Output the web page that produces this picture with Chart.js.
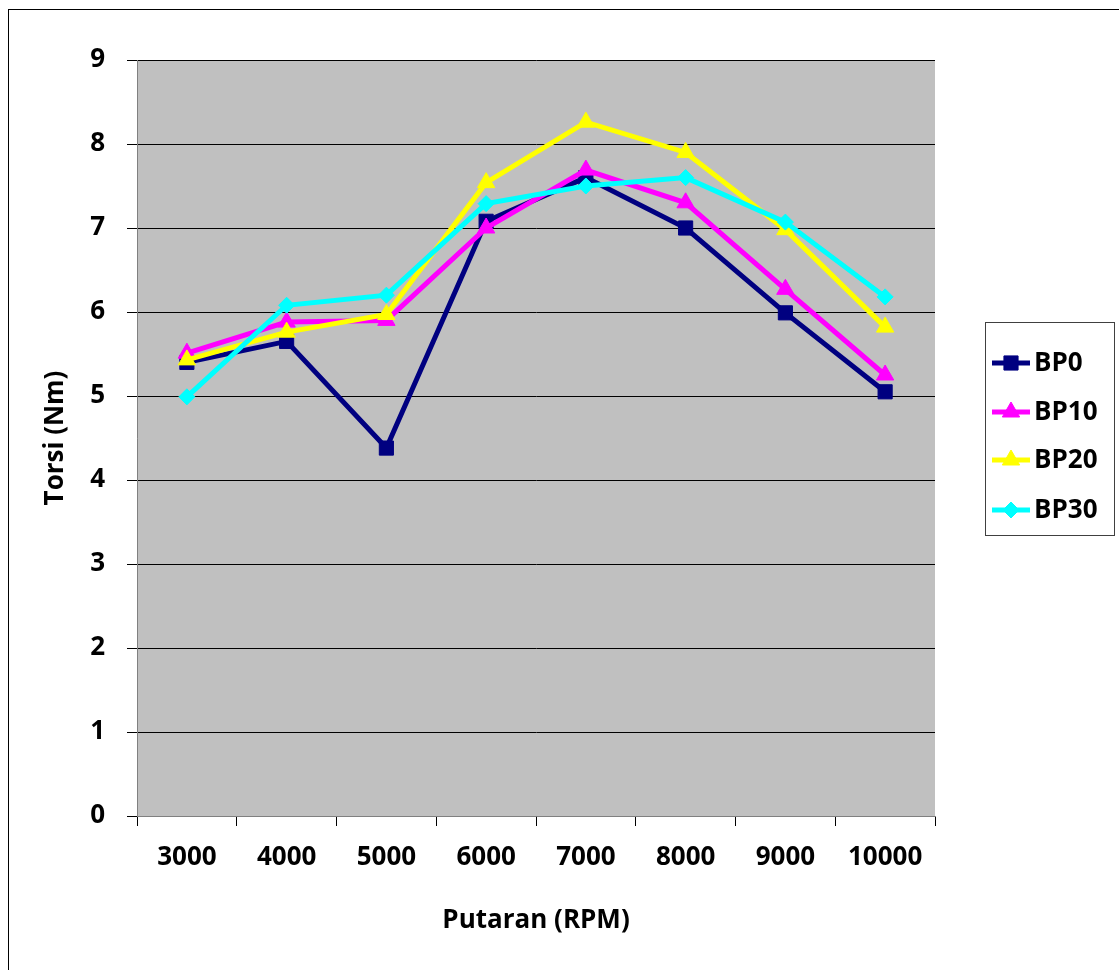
<!DOCTYPE html>
<html>
<head>
<meta charset="utf-8">
<script src="https://cdn.jsdelivr.net/npm/chart.js@4/dist/chart.umd.min.js"></script>
<style>
  body { margin: 0; background: #fff; }
  canvas { display: block; }
</style>
</head>
<body>
<canvas id="torsi" width="1119" height="970"></canvas>
<script>
const rpm = ['3000', '4000', '5000', '6000', '7000', '8000', '9000', '10000'];
const bp0 = [5.40, 5.65, 4.38, 7.08, 7.60, 7.00, 5.99, 5.05];
const bp10 = [5.51, 5.88, 5.90, 7.00, 7.69, 7.30, 6.27, 5.25];
const bp20 = [5.43, 5.76, 5.97, 7.54, 8.26, 7.90, 6.98, 5.82];
const bp30 = [4.99, 6.08, 6.20, 7.29, 7.50, 7.60, 7.07, 6.18];

const FONT = { family: "'Open Sans', sans-serif", size: 26, weight: 'bold' };

const plotBg = {
  id: 'plotBg',
  beforeDraw(chart) {
    const { ctx, chartArea: a } = chart;
    ctx.save();
    ctx.fillStyle = '#C0C0C0';
    ctx.fillRect(a.left, a.top, a.right - a.left, a.bottom - a.top);
    ctx.restore();
  }
};

// excel style legend box with line + marker, plus the outer frame
const boxLegend = {
  id: 'boxLegend',
  afterDraw(chart) {
    const ctx = chart.ctx;
    ctx.save();
    ctx.strokeStyle = '#000';
    ctx.lineWidth = 1;
    ctx.strokeRect(8.5, 9.5, 1200, 1200);
    ctx.strokeStyle = '#404040';
    ctx.strokeRect(985.5, 322.5, 129, 213);
    const rows = [363, 412, 460, 510];
    chart.data.datasets.forEach((ds, i) => {
      const y = rows[i];
      ctx.strokeStyle = ds.borderColor;
      ctx.lineWidth = 5;
      ctx.beginPath();
      ctx.moveTo(992, y);
      ctx.lineTo(1030, y);
      ctx.stroke();
      ctx.fillStyle = ds.pointBackgroundColor;
      ctx.strokeStyle = ds.pointBorderColor;
      ctx.lineWidth = 1;
      Chart.helpers.drawPoint(ctx, { pointStyle: ds.pointStyle, radius: ds.pointRadius, rotation: 0, borderWidth: 1 }, 1011, y);
      ctx.fillStyle = '#000';
      ctx.font = 'bold 26px "Open Sans", sans-serif';
      ctx.textBaseline = 'middle';
      ctx.textAlign = 'left';
      ctx.fillText(ds.label, 1034, y + 1);
    });
    ctx.restore();
  }
};

function series(label, data, color, style, radius, order) {
  return {
    label, data, order,
    borderColor: color,
    backgroundColor: color,
    borderWidth: 5,
    pointStyle: style,
    pointRadius: radius,
    pointBackgroundColor: color,
    pointBorderColor: color,
    pointBorderWidth: 1,
    tension: 0
  };
}

new Chart(document.getElementById('torsi'), {
  type: 'line',
  data: {
    labels: rpm,
    datasets: [
      series('BP0', bp0, '#000080', 'rect', 10, 4),
      series('BP10', bp10, '#FF00FF', 'triangle', 10, 3),
      series('BP20', bp20, '#FFFF00', 'triangle', 10, 2),
      series('BP30', bp30, '#00FFFF', 'rectRot', 8, 1)
    ]
  },
  options: {
    responsive: false,
    animation: false,
    layout: { padding: { top: 60, right: 184, bottom: 0, left: 0 } },
    plugins: { legend: { display: false }, tooltip: { enabled: false } },
    scales: {
      x: {
        offset: true,
        grid: { offset: true, drawOnChartArea: false, tickLength: 10, color: '#000' },
        border: { color: '#808080', width: 1 },
        ticks: { color: '#000', font: FONT, padding: 16, maxRotation: 0 },
        title: { display: true, text: 'Putaran (RPM)', color: '#000', font: FONT, padding: { top: 0, bottom: 34 } },
        afterFit(s) { s.height = 154; }
      },
      y: {
        min: 0, max: 9,
        ticks: { stepSize: 1, color: '#000', font: FONT, padding: 22 },
        grid: { color: '#000', tickLength: 10, lineWidth: 1 },
        border: { color: '#808080', width: 1 },
        title: { display: true, text: 'Torsi (Nm)', color: '#000', font: FONT, padding: { top: 40, bottom: 0 } },
        afterFit(s) { s.width = 137; }
      }
    }
  },
  plugins: [plotBg, boxLegend]
});
</script>
</body>
</html>
